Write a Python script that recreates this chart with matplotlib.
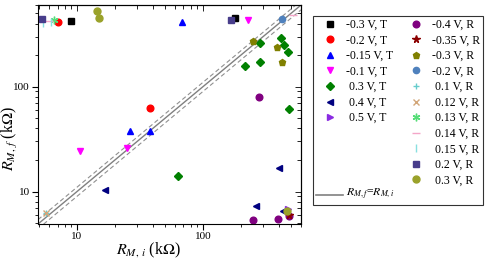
import matplotlib
matplotlib.use("Agg")
import matplotlib.pyplot as plt
from matplotlib.lines import Line2D
from matplotlib import ticker
import numpy as np

plt.rcParams['font.family'] = ['Liberation Serif', 'DejaVu Serif']
plt.rcParams['mathtext.fontset'] = 'stix'

# R_M,i and R_M,f (kOhm) per series
x_m03T = [8.9, 181];  y_m03T = [423, 454]
x_m02T = [7.1, 38.2]; y_m02T = [416, 63]
x_m015T = [68, 26.3, 38.2]; y_m015T = [418, 38.1, 38.1]
x_m01T = [228, 10.6, 24.8]; y_m01T = [432, 24.6, 25.9]
x_03T = [215, 283, 286, 419, 439, 476, 482, 63.5]
y_03T = [158, 172, 261, 293, 250, 215, 61, 14.2]
x_04T = [16.6, 399, 266, 429]; y_04T = [10.4, 16.7, 7.2, 6.55]
x_05T = [473]; y_05T = [6.85]
x_m04R = [281, 250, 391, 485]; y_m04R = [80, 5.3, 5.5, 5.8]
x_m035R = [480]; y_m035R = [6.0]
x_m03R = [249, 389, 421]; y_m03R = [271, 240, 172]
x_m02R = [427]; y_m02R = [441]
x_01R = [5.7]; y_01R = [6.2]
x_012R = [5.7]; y_012R = [6.2]
x_013R = [6.56]; y_013R = [429]
x_014R = [5.95, 518]; y_014R = [425, 482]
x_015R = [5.35, 6.25]; y_015R = [402, 410]
x_02R = [5.26, 168]; y_02R = [441, 432]
x_03R = [14.5, 14.9, 462]; y_03R = [522, 448, 6.45]

t_labels = ['-0.3 V, T', '-0.2 V, T', '-0.15 V, T', '-0.1 V, T',
            ' 0.3 V, T', ' 0.4 V, T', ' 0.5 V, T']
r_labels = ['-0.4 V, R', '-0.35 V, R', '-0.3 V, R', '-0.2 V, R',
            ' 0.1 V, R', ' 0.12 V, R', ' 0.13 V, R', ' 0.14 V, R',
            ' 0.15 V, R', ' 0.2 V, R', ' 0.3 V, R']
t_data = [(x_m03T, y_m03T), (x_m02T, y_m02T), (x_m015T, y_m015T), (x_m01T, y_m01T),
          (x_03T, y_03T), (x_04T, y_04T), (x_05T, y_05T)]
r_data = [(x_m04R, y_m04R), (x_m035R, y_m035R), (x_m03R, y_m03R), (x_m02R, y_m02R),
          (x_01R, y_01R), (x_012R, y_012R), (x_013R, y_013R), (x_014R, y_014R),
          (x_015R, y_015R), (x_02R, y_02R), (x_03R, y_03R)]

# marker, colour, size
t_style = [('s', 'black', 4), ('o', 'red', 4.8), ('^', 'blue', 5), ('v', 'magenta', 5),
           ('D', 'green', 4), ('<', 'navy', 5), ('>', '#8a2be2', 5)]
r_style = [('o', 'purple', 4.8), ('*', '#8b0000', 5.5), ('p', '#808000', 5),
           ('o', '#4f81bd', 4.5), ('+', '#66cccc', 5), ('x', '#d2a679', 5),
           ((6, 2, 0), '#55dd77', 5.5), ('_', '#f4a6c8', 6), ('|', '#88e0e0', 6),
           ('s', '#483d8b', 4), ('o', '#9aa22a', 5)]

fig = plt.figure(figsize=(4.91, 2.67), dpi=100)
ax = fig.add_axes([0.0774, 0.161, 0.5356, 0.820])
ax.set_xscale('log')
ax.set_yscale('log')
ax.set_xlim(4.9, 600)
ax.set_ylim(4.9, 600)

# y = x with +-10 % band
d = np.array([4.9, 600])
ax.plot(d, d, color='#808080', lw=1.0, zorder=1)
ax.plot(d, d * 1.1, color='#909090', lw=0.8, ls=(0, (4, 2.5)), zorder=1)
ax.plot(d, d * 0.9, color='#909090', lw=0.8, ls=(0, (4, 2.5)), zorder=1)

handles_t = []
for (xs, ys), lab, (m, c, s) in zip(t_data, t_labels, t_style):
    h, = ax.plot(xs, ys, ls='none', marker=m, color=c, ms=s, mew=1.0, label=lab)
    handles_t.append(h)
handles_r = []
for (xs, ys), lab, (m, c, s) in zip(r_data, r_labels, r_style):
    h, = ax.plot(xs, ys, ls='none', marker=m, color=c, ms=s, mew=1.0, label=lab)
    handles_r.append(h)

fmt = ticker.FuncFormatter(lambda v, p: f'{v:g}')
ax.xaxis.set_major_formatter(fmt)
ax.yaxis.set_major_formatter(fmt)
ax.tick_params(which='both', direction='out', labelsize=8, pad=2)
ax.tick_params(which='major', length=4, width=0.8)
ax.tick_params(which='minor', length=2.5, width=0.6)

ax2 = ax.secondary_xaxis('top', functions=(lambda v: v, lambda v: v))
ax2.tick_params(which='both', direction='in', length=3, width=0.6)
ax2.tick_params(which='major', length=4)
ax2.xaxis.set_major_formatter(ticker.NullFormatter())
ax2.xaxis.set_minor_formatter(ticker.NullFormatter())
ax3 = ax.secondary_yaxis('right', functions=(lambda v: v, lambda v: v))
ax3.tick_params(which='both', direction='in', length=3, width=0.6)
ax3.tick_params(which='major', length=4)
ax3.yaxis.set_major_formatter(ticker.NullFormatter())
ax3.yaxis.set_minor_formatter(ticker.NullFormatter())

ax.set_xlabel(r'$R_{M,\,i}$ (k$\Omega$)', fontsize=11.5)
ax.set_ylabel(r'$R_{M,\,f}$ (k$\Omega$)', fontsize=11.5)
ax.xaxis.set_label_coords(0.418, -0.078)
ax.yaxis.set_label_coords(-0.07, 0.39)

blank = Line2D([], [], ls='none', marker='')
line_h = Line2D([], [], color='#808080', lw=1.2)
handles = handles_t + [blank] * 4 + [line_h] + handles_r + [blank]
labels = t_labels + [''] * 5 + r_labels + ['']
leg = fig.legend(handles, labels, ncol=2, loc='upper left',
                 bbox_to_anchor=(0.6375, 0.94), fontsize=8.5, frameon=True,
                 fancybox=False, edgecolor='black', handlelength=2.3,
                 handletextpad=0.25, columnspacing=0.75, labelspacing=0.3,
                 borderpad=0.25, borderaxespad=0, numpoints=1)
leg.get_frame().set_linewidth(0.8)

# label of the y = x entry runs over into the second column
fig.canvas.draw()
bb = leg.legend_handles[11].get_window_extent(fig.canvas.get_renderer())
fig.text((bb.x1 + 3) / fig.bbox.width, (bb.y0 + bb.y1) / 2 / fig.bbox.height,
         r'$R_{M,f}$=$R_{M,i}$', fontsize=8.5, va='center', ha='left', zorder=10)

fig.savefig('out.png', dpi=100)
